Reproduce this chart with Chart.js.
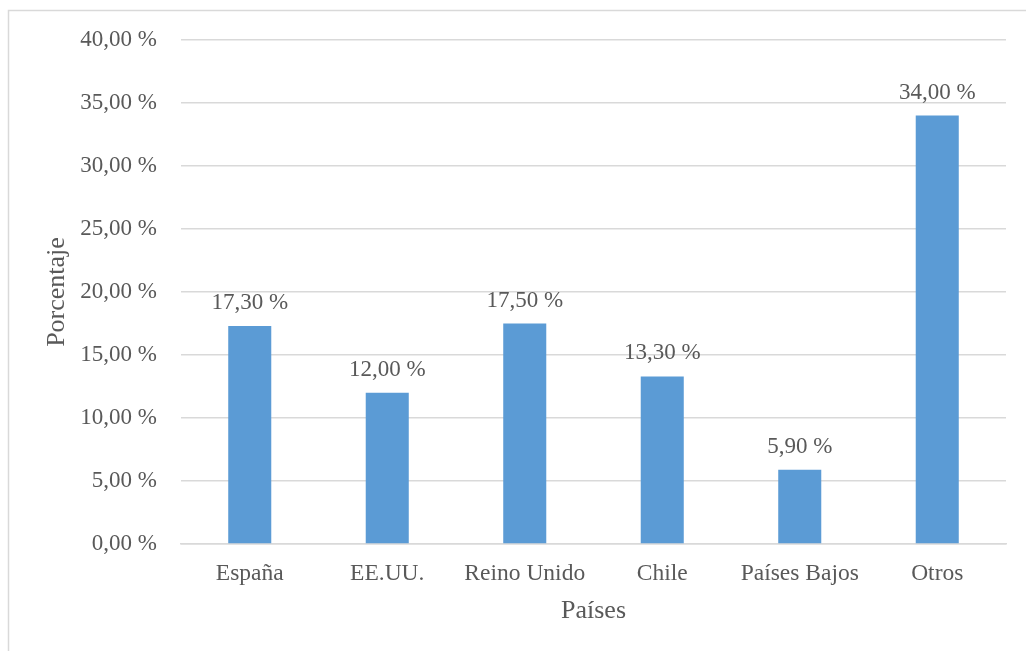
<!DOCTYPE html>
<html>
<head>
<meta charset="utf-8">
<script src="https://cdn.jsdelivr.net/npm/chart.js@4"></script>
<style>
html,body{margin:0;padding:0;background:#fff;}
#wrap{position:relative;width:1026px;height:651px;}
</style>
</head>
<body>
<div id="wrap"><canvas id="c" width="1026" height="651"></canvas></div>
<script>
const categories = ["España", "EE.UU.", "Reino Unido", "Chile", "Países Bajos", "Otros"];
const values = [17.3, 12.0, 17.5, 13.3, 5.9, 34.0];
const yTickLabels = ["0,00 %", "5,00 %", "10,00 %", "15,00 %", "20,00 %", "25,00 %", "30,00 %", "35,00 %", "40,00 %"];
const yTitle = "Porcentaje";
const xTitle = "Países";

const FONT = "'Liberation Serif', 'Times New Roman', serif";
const TXT = "#595959";
const GRID = "#d9d9d9";

function fmt(v){ return v.toFixed(2).replace('.', ',') + ' %'; }

const framePlugin = {
  id: 'frame',
  beforeDraw(chart){
    const ctx = chart.ctx;
    ctx.save();
    ctx.strokeStyle = GRID;
    ctx.lineWidth = 1.5;
    ctx.beginPath();
    ctx.moveTo(8.5, 651);
    ctx.lineTo(8.5, 10.5);
    ctx.lineTo(1026, 10.5);
    ctx.stroke();
    ctx.restore();
  }
};

const labelPlugin = {
  id: 'valueLabels',
  afterDatasetsDraw(chart){
    const ctx = chart.ctx;
    const meta = chart.getDatasetMeta(0);
    ctx.save();
    ctx.font = "23px " + FONT;
    ctx.fillStyle = TXT;
    ctx.textAlign = 'center';
    ctx.textBaseline = 'middle';
    meta.data.forEach((bar, i) => {
      ctx.fillText(fmt(values[i]), bar.x, bar.y - 23);
    });
    ctx.restore();
  }
};

new Chart(document.getElementById('c'), {
  type: 'bar',
  data: {
    labels: categories,
    datasets: [{
      data: values,
      backgroundColor: '#5B9BD5',
      borderWidth: 0,
      categoryPercentage: 1,
      barPercentage: 0.313
    }]
  },
  options: {
    responsive: false,
    animation: false,
    devicePixelRatio: 1,
    layout: { padding: { left: 0, right: 20, top: 40, bottom: 0 } },
    plugins: { legend: { display: false }, tooltip: { enabled: false } },
    scales: {
      x: {
        grid: { display: false, drawTicks: false },
        border: { display: true, color: GRID, width: 1.5 },
        ticks: { color: TXT, font: { family: FONT, size: 23.5 }, padding: 16, maxRotation: 0 },
        title: { display: true, text: xTitle, color: TXT, font: { family: FONT, size: 26 }, padding: { top: 0, bottom: 24 } },
        afterFit(scale){ scale.height = 107; }
      },
      y: {
        min: 0, max: 40,
        grid: { color: GRID, lineWidth: 1.5, drawTicks: false },
        border: { display: false },
        ticks: {
          stepSize: 5,
          color: TXT,
          font: { family: FONT, size: 23 },
          padding: 24,
          callback: (v, i) => yTickLabels[i]
        },
        title: { display: true, text: yTitle, color: TXT, font: { family: FONT, size: 26 }, padding: { top: 42, bottom: 0 } },
        afterFit(scale){ scale.width = 181; }
      }
    }
  },
  plugins: [framePlugin, labelPlugin]
});
</script>
</body>
</html>
